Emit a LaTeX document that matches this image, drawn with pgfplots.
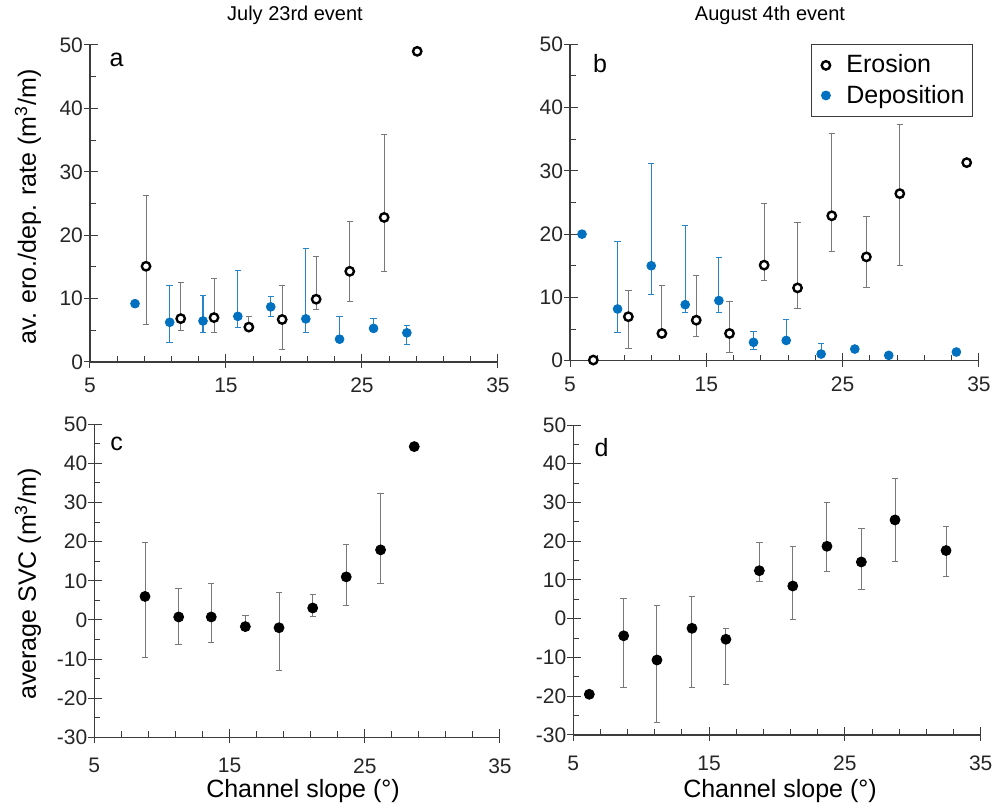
\documentclass[border=0pt]{standalone}
\usepackage{fontspec}
\setmainfont{Liberation Sans}
\usepackage{pgfplots}
\pgfplotsset{compat=1.18}
\usepackage{pgfplotstable}
\definecolor{depblue}{RGB}{0,112,192}
\definecolor{axgray}{RGB}{60,60,60}
\definecolor{ebgray}{RGB}{120,120,120}

% Panel a: July 23rd, erosion / deposition
\pgfplotstableread{
x y ep em
9.12 15.1 11.2 9.2
11.67 6.84 5.76 1.84
14.12 7.0 6.2 2.3
16.68 5.5 1.6 0.3
19.13 6.7 5.3 4.8
21.63 9.9 6.7 1.7
24.1 14.3 7.9 4.8
26.63 22.8 13.1 8.5
29.06 49.0 0 0
}\aero
\pgfplotstableread{
x y ep em
8.31 9.2 0 0
10.86 6.26 5.84 3.26
13.31 6.47 4.03 1.87
15.87 7.2 7.2 1.8
18.29 8.7 1.7 1.6
20.87 6.8 11.1 2.1
23.35 3.6 3.5 0
25.85 5.3 1.5 0
28.3 4.6 1.1 1.8
}\adep
% Panel b: August 4th
\pgfplotstableread{
x y ep em
6.71 0.1 0 0
9.28 6.95 4.15 5.0
11.74 4.3 7.6 0
14.26 6.4 7.1 2.6
16.70 4.3 5.1 3.04
19.24 15.1 9.7 2.35
21.69 11.5 10.3 3.2
24.2 22.9 13.0 5.7
26.74 16.4 6.4 4.9
29.19 26.4 10.95 11.3
34.1 31.3 0 0
}\bero
\pgfplotstableread{
x y ep em
5.88 20.0 0 0
8.49 8.17 10.63 3.77
10.96 15.0 16.2 4.5
13.45 8.85 12.55 1.25
15.92 9.5 6.8 1.9
18.46 2.9 1.7 1.1
20.86 3.2 3.3 0
23.42 1.05 1.65 0
25.89 1.84 0 0
28.38 0.84 0 0
33.34 1.37 0 0
}\bdep
% Panel c: average SVC July 23rd
\pgfplotstableread{
x y ep em
8.75 6.0 13.8 15.6
11.24 0.75 7.25 7.15
13.65 0.75 8.6 6.45
16.17 -1.7 2.8 1.1
18.66 -2.0 9.0 10.9
21.15 3.05 3.55 2.3
23.63 11.0 8.4 7.3
26.17 17.9 14.45 8.55
28.66 44.3 0 0
}\csvc
% Panel d: average SVC August 4th
\pgfplotstableread{
x y ep em
6.18 -19.5 0 0
8.71 -4.4 9.5 13.3
11.16 -10.65 13.95 16.15
13.74 -2.47 8.17 15.23
16.24 -5.3 2.74 11.7
18.70 12.4 7.2 2.7
21.16 8.45 10.15 8.6
23.68 18.7 11.2 6.4
26.21 14.65 8.6 7.15
28.69 25.5 10.65 10.8
32.45 17.6 6.1 6.6
}\dsvc

\pgfplotsset{
  panel/.style={
    scale only axis,
    axis lines=left,
    axis line style={axgray, line width=0.6pt, -},
    xmin=5, xmax=35, xtick={5,15,25,35},
    minor x tick num=4,
    minor y tick num=1,
    tick align=inside,
    major tick length=7pt,
    minor tick length=3pt,
    every major x tick/.append style={yshift=-3pt},
    every major y tick/.append style={xshift=-3pt},
    tick style={axgray, line width=0.5pt},
    ticklabel style={font=\fontsize{10.5}{12}\selectfont, text=black!85},
    /pgf/number format/assume math mode=true,
    clip=false,
  },
  ero/.style={only marks, mark=*, mark size=2.1pt,
    mark options={draw=black, fill=white, line width=1.2pt},
    error bars/.cd, y dir=both, y explicit,
    error bar style={ebgray, line width=0.5pt},
    error mark options={rotate=90, ebgray, mark size=1.6pt, line width=0.5pt}},
  dep/.style={only marks, mark=*, mark size=2.2pt, color=depblue,
    mark options={draw=depblue, fill=depblue},
    error bars/.cd, y dir=both, y explicit,
    error bar style={depblue!85, line width=0.6pt},
    error mark options={rotate=90, depblue!85, mark size=1.6pt, line width=0.5pt}},
  svc/.style={only marks, mark=*, mark size=2.5pt, color=black,
    mark options={draw=black, fill=black},
    error bars/.cd, y dir=both, y explicit,
    error bar style={ebgray, line width=0.5pt},
    error mark options={rotate=90, ebgray, mark size=1.6pt, line width=0.5pt}},
}

\begin{document}
\begin{tikzpicture}
\useasboundingbox (0,0) rectangle (499pt,406pt);

% Panel a
\begin{axis}[panel, at={(45pt,225pt)}, anchor=south west,
  width=204pt, height=158.5pt,
  ymin=0, ymax=50, ytick={0,10,20,30,40,50},
  xticklabel style={yshift=-4.5pt}]
\addplot[ero] table[x=x, y=y, y error plus=ep, y error minus=em]{\aero};
\addplot[dep] table[x=x, y=y, y error plus=ep, y error minus=em]{\adep};
\end{axis}

% Panel b
\begin{axis}[panel, at={(285pt,225.65pt)}, anchor=south west,
  width=204.5pt, height=158.2pt,
  ymin=0, ymax=50, ytick={0,10,20,30,40,50},
  xticklabel style={yshift=-4.5pt},
  legend style={at={(rel axis cs:1,1)}, anchor=north east, xshift=-3pt,
    draw=axgray, line width=0.5pt, font=\fontsize{12.5}{14}\selectfont,
    inner xsep=2pt, inner ysep=3pt, row sep=0.5pt},
  legend image code/.code={\path (0cm,0cm) (0.45cm,0cm);
    \draw[#1, mark repeat=2, mark phase=2] plot coordinates {(0cm,0cm) (0.17cm,0cm) (0.34cm,0cm)};},
  legend cell align=left]
\addplot[ero] table[x=x, y=y, y error plus=ep, y error minus=em]{\bero};
\addlegendentry{Erosion}
\addplot[dep] table[x=x, y=y, y error plus=ep, y error minus=em]{\bdep};
\addlegendentry{Deposition}
\end{axis}

% Panel c
\begin{axis}[panel, at={(47.15pt,37.35pt)}, anchor=south west,
  width=202.85pt, height=156.5pt,
  ymin=-30, ymax=50, ytick={-30,-20,-10,0,10,20,30,40,50},
  xticklabel style={yshift=-7pt}]
\addplot[svc] table[x=x, y=y, y error plus=ep, y error minus=em]{\csvc};
\end{axis}

% Panel d
\begin{axis}[panel, at={(286.65pt,38.5pt)}, anchor=south west,
  width=203.7pt, height=155pt,
  ymin=-30, ymax=50, ytick={-30,-20,-10,0,10,20,30,40,50},
  xticklabel style={yshift=-7pt}]
\addplot[svc] table[x=x, y=y, y error plus=ep, y error minus=em]{\dsvc};
\end{axis}

% titles
\node[font=\fontsize{10}{12}\selectfont] at (147.5pt,398.5pt) {July 23rd event};
\node[font=\fontsize{10}{12}\selectfont] at (385pt,398.5pt) {August 4th event};
% y labels
\node[rotate=90, font=\fontsize{12.5}{14}\selectfont] at (14pt,302.5pt) {av. ero./dep. rate (m\textsuperscript{3}/m)};
\node[rotate=90, font=\fontsize{12.5}{14}\selectfont] at (14pt,114pt) {average SVC (m\textsuperscript{3}/m)};
% x labels
\node[font=\fontsize{12.5}{14}\selectfont] at (151.5pt,10.5pt) {Channel slope (°)};
\node[font=\fontsize{12.5}{14}\selectfont] at (390pt,10.5pt) {Channel slope (°)};
% panel letters
\node[font=\fontsize{12.5}{14}\selectfont] at (58.3pt,376pt) {a};
\node[font=\fontsize{12.5}{14}\selectfont] at (300pt,374.3pt) {b};
\node[font=\fontsize{12.5}{14}\selectfont] at (58.3pt,183.8pt) {c};
\node[font=\fontsize{12.5}{14}\selectfont] at (300.8pt,182.1pt) {d};
\end{tikzpicture}
\end{document}
